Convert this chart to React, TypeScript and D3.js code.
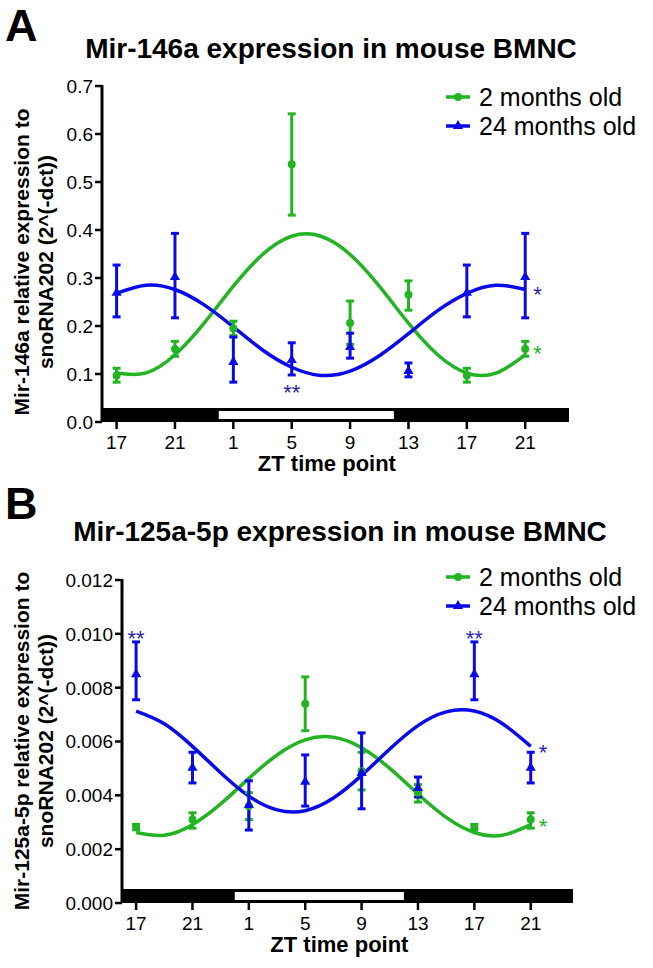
import React from 'react';
import * as d3 from 'd3';

// shared x categories (ZT hours, two days shown)
const ztLabels = ['17', '21', '1', '5', '9', '13', '17', '21'];
const sampleHours = [17, 21, 25, 29, 33, 37, 41, 45];
const fitHours = [17, 19, 21, 23, 25, 27, 29, 31, 33, 35, 37, 39, 41, 43, 45];
const lightOn = 24;
const lightOff = 36;
const seriesNames = ['2 months old', '24 months old'];

// panel A - Mir-146a
const aYoungMean = [0.097, 0.152, 0.195, 0.537, 0.206, 0.265, 0.097, 0.152];
const aYoungLo = [0.083, 0.137, 0.180, 0.431, 0.162, 0.233, 0.083, 0.137];
const aYoungHi = [0.112, 0.168, 0.210, 0.642, 0.252, 0.294, 0.112, 0.168];
const aOldMean = [0.269, 0.302, 0.125, 0.129, 0.156, 0.106, 0.269, 0.302];
const aOldLo = [0.219, 0.217, 0.083, 0.098, 0.133, 0.094, 0.219, 0.217];
const aOldHi = [0.327, 0.393, 0.177, 0.165, 0.185, 0.123, 0.327, 0.393];
const aYoungFit = [0.102, 0.102, 0.140, 0.206, 0.283, 0.349, 0.387, 0.387, 0.349, 0.283, 0.206, 0.140, 0.102, 0.102, 0.140];
const aOldFit = [0.268, 0.285, 0.276, 0.244, 0.198, 0.150, 0.114, 0.097, 0.106, 0.138, 0.184, 0.232, 0.268, 0.285, 0.276];
const aTicks = [0, 0.1, 0.2, 0.3, 0.4, 0.5, 0.6, 0.7];

// panel B - Mir-125a-5p
const bYoungMean = [0.00282, 0.0031, 0.0036, 0.0074, 0.0049, 0.0041, 0.00282, 0.0031];
const bYoungLo = [0.00272, 0.00278, 0.0031, 0.0064, 0.0042, 0.00375, 0.00272, 0.00278];
const bYoungHi = [0.00292, 0.00335, 0.0041, 0.0084, 0.0056, 0.0044, 0.00292, 0.00335];
const bOldMean = [0.0085, 0.00502, 0.00364, 0.0045, 0.00483, 0.00427, 0.0085, 0.00502];
const bOldLo = [0.00755, 0.00446, 0.00271, 0.0036, 0.0035, 0.00394, 0.00755, 0.00446];
const bOldHi = [0.0097, 0.0056, 0.00454, 0.0055, 0.00632, 0.00468, 0.0097, 0.0056];
const bYoungFit = [0.00262, 0.00252, 0.00291, 0.00368, 0.00463, 0.0055, 0.00606, 0.00616, 0.00577, 0.005, 0.00405, 0.00318, 0.00262, 0.00252, 0.00291];
const bOldFit = [0.00713, 0.00666, 0.00582, 0.00484, 0.00397, 0.00346, 0.00343, 0.0039, 0.00474, 0.00572, 0.00659, 0.0071, 0.00713, 0.00666, 0.00582];
const bTicks = [0, 0.002, 0.004, 0.006, 0.008, 0.010, 0.012];

const GREEN = '#22b422';
const BLUE = '#0a0ae8';
const STAR_BLUE = '#2626b4';
const FONT = "'Liberation Sans', Arial, sans-serif";

function Marker({ kind, x, y, color }) {
  if (kind === 'circle') return <circle cx={x} cy={y} r={4} fill={color} />;
  const p = d3.symbol().type(d3.symbolTriangle).size(45)();
  return <path d={p} transform={`translate(${x},${y})`} fill={color} />;
}

function Panel(props) {
  const {
    letter, letterY, title, titleX, titleY, yTicks, fmt, xRange, yRange,
    legendX, legendY, ylabel, ylabelY, young, old, stars,
  } = props;
  const x = d3.scaleLinear().domain([16, 48]).range(xRange);
  const y = d3.scaleLinear().domain([0, yTicks[yTicks.length - 1]]).range(yRange);
  const y0 = y(0);
  const barH = 14;
  const fitLine = d3.line<number>()
    .x((_, i) => x(fitHours[i]))
    .y(v => y(v))
    .curve(d3.curveNatural);

  const series = [
    { ...young, color: GREEN, kind: 'circle' },
    { ...old, color: BLUE, kind: 'triangle' },
  ];
  const midX = (x(sampleHours[0]) + x(sampleHours[7])) / 2;

  return (
    <g fontFamily={FONT}>
      <text x={5} y={letterY} fontSize={45} fontWeight="bold">{letter}</text>
      <text x={titleX} y={titleY} fontSize={28} fontWeight="bold" textAnchor="middle">{title}</text>

      {/* y axis label */}
      <g transform={`translate(0,${ylabelY}) rotate(-90)`}>
        <text x={0} y={29} fontSize={21} fontWeight="bold" textAnchor="middle">{ylabel[0]}</text>
        <text x={0} y={53} fontSize={21} fontWeight="bold" textAnchor="middle">{ylabel[1]}</text>
      </g>

      {/* y axis */}
      <line x1={xRange[0]} x2={xRange[0]} y1={y0} y2={y(yTicks[yTicks.length - 1]) - 1} stroke="#000" strokeWidth={3} />
      {yTicks.map(t => (
        <g key={t}>
          <line x1={xRange[0] - 7} x2={xRange[0]} y1={y(t)} y2={y(t)} stroke="#000" strokeWidth={2.5} />
          <text x={xRange[0] - 9} y={y(t)} dy="0.36em" fontSize={19} textAnchor="end">{fmt(t)}</text>
        </g>
      ))}

      {/* light/dark bar as x axis */}
      <rect x={x(16)} y={y0 - barH} width={x(48) - x(16)} height={barH} fill="#000" />
      <rect x={x(lightOn)} y={y0 - barH + 3} width={x(lightOff) - x(lightOn)} height={barH - 6} fill="#fff" />
      {sampleHours.map((h, i) => (
        <g key={i}>
          <line x1={x(h)} x2={x(h)} y1={y0} y2={y0 + 7} stroke="#000" strokeWidth={2.5} />
          <text x={x(h)} y={y0 + 27} fontSize={19} textAnchor="middle">{ztLabels[i]}</text>
        </g>
      ))}
      <text x={midX + 6} y={y0 + 49} fontSize={22} fontWeight="bold" textAnchor="middle">ZT time point</text>

      {/* fit curves */}
      {series.map((s, k) => (
        <path key={k} d={fitLine(s.fit)} fill="none" stroke={s.color} strokeWidth={3.5} />
      ))}

      {/* error bars and points */}
      {series.map((s, k) => (
        <g key={k} stroke={s.color} strokeWidth={3}>
          {sampleHours.map((h, i) => (
            <g key={i}>
              <line x1={x(h)} x2={x(h)} y1={y(s.lo[i])} y2={y(s.hi[i])} />
              <line x1={x(h) - 4} x2={x(h) + 4} y1={y(s.lo[i])} y2={y(s.lo[i])} />
              <line x1={x(h) - 4} x2={x(h) + 4} y1={y(s.hi[i])} y2={y(s.hi[i])} />
            </g>
          ))}
        </g>
      ))}
      {series.map((s, k) => (
        <g key={k}>
          {sampleHours.map((h, i) => (
            <Marker key={i} kind={s.kind} x={x(h)} y={y(s.mean[i])} color={s.color} />
          ))}
        </g>
      ))}

      {/* significance marks */}
      {stars.map((s, i) => (
        <text key={i} x={x(s.hour) + s.dx} y={y(s.value) + s.dy} fontSize={22} fill={s.color} textAnchor={s.anchor}>{s.text}</text>
      ))}

      {/* legend */}
      {series.map((s, k) => (
        <g key={k} transform={`translate(${legendX},${legendY + k * 29})`}>
          <line x1={0} x2={24} y1={0} y2={0} stroke={s.color} strokeWidth={3.5} />
          <Marker kind={s.kind} x={12} y={0} color={s.color} />
          <text x={33} y={0} dy="0.35em" fontSize={25}>{seriesNames[k]}</text>
        </g>
      ))}
    </g>
  );
}

export default function App() {
  const fmtA = d3.format('.1f');
  const fmtB = d3.format('.3f');
  return (
    <svg width={653} height={968} style={{ position: 'absolute', left: 0, top: 0, background: '#fff' }}>
      <Panel
        letter="A" letterY={41}
        title="Mir-146a expression in mouse BMNC" titleX={331} titleY={58}
        yTicks={aTicks} fmt={fmtA}
        xRange={[102, 569]} yRange={[422, 86]}
        legendX={446} legendY={97}
        ylabel={['Mir-146a relative expression to', 'snoRNA202 (2^(-dct))']} ylabelY={262}
        young={{ mean: aYoungMean, lo: aYoungLo, hi: aYoungHi, fit: aYoungFit }}
        old={{ mean: aOldMean, lo: aOldLo, hi: aOldHi, fit: aOldFit }}
        stars={[
          { text: '**', hour: 29, value: aOldLo[3], dx: 0, dy: 25, color: STAR_BLUE, anchor: 'middle' },
          { text: '*', hour: 45, value: aOldFit[14], dx: 8, dy: 12, color: STAR_BLUE, anchor: 'start' },
          { text: '*', hour: 45, value: aYoungMean[7], dx: 8, dy: 12, color: GREEN, anchor: 'start' },
        ]}
      />
      <Panel
        letter="B" letterY={519}
        title="Mir-125a-5p expression in mouse BMNC" titleX={340} titleY={541}
        yTicks={bTicks} fmt={fmtB}
        xRange={[122, 573]} yRange={[903, 580]}
        legendX={446} legendY={577}
        ylabel={['Mir-125a-5p relative expression to', 'snoRNA202 (2^(-dct))']} ylabelY={741}
        young={{ mean: bYoungMean, lo: bYoungLo, hi: bYoungHi, fit: bYoungFit }}
        old={{ mean: bOldMean, lo: bOldLo, hi: bOldHi, fit: bOldFit }}
        stars={[
          { text: '**', hour: 17, value: bOldHi[0], dx: 0, dy: 4, color: STAR_BLUE, anchor: 'middle' },
          { text: '**', hour: 41, value: bOldHi[6], dx: 0, dy: 4, color: STAR_BLUE, anchor: 'middle' },
          { text: '*', hour: 45, value: bOldFit[14], dx: 8, dy: 14, color: STAR_BLUE, anchor: 'start' },
          { text: '*', hour: 45, value: bYoungMean[7], dx: 8, dy: 14, color: GREEN, anchor: 'start' },
        ]}
      />
    </svg>
  );
}
